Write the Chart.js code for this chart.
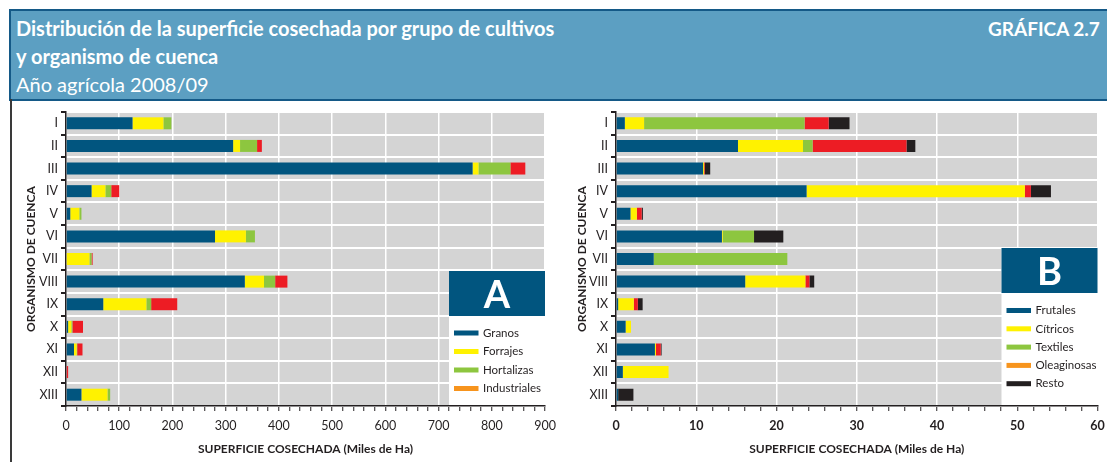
<!DOCTYPE html>
<html>
<head>
<meta charset="utf-8">
<script src="https://cdn.jsdelivr.net/npm/chart.js@4.4.1/dist/chart.umd.min.js"></script>
<style>
  html, body { margin: 0; padding: 0; background: #fff; }
  body { width: 1107px; height: 462px; position: relative; overflow: hidden; font-family: Lato, "Noto Sans", sans-serif; }
  #header {
    position: absolute; left: 9px; top: 9px; width: 1110px; height: 88px;
    background: #5c9fc2; border: 2px solid #145987; border-right: none;
    color: #fff;
  }
  #header .l { position: absolute; left: 5px; font-size: 20px; white-space: nowrap; }
  #header .b { font-weight: 700; }
  #gnum { position: absolute; left: 977px; top: 6px; font-size: 19px; font-weight: 700; white-space: nowrap; }
  #leftline { position: absolute; left: 10px; top: 99px; width: 2px; height: 363px; background: #3a3a3a; }
  canvas { position: absolute; top: 100px; }
  #cA { left: 0; }
  #cB { left: 556px; }
</style>
</head>
<body>
<div id="header">
  <div class="l b" style="top:5px">Distribución de la superficie cosechada por grupo de cultivos</div>
  <div class="l b" style="top:33px">y organismo de cuenca</div>
  <div class="l" style="top:61px">Año agrícola 2008/09</div>
  <div id="gnum">GRÁFICA 2.7</div>
</div>
<div id="leftline"></div>
<canvas id="cA" width="556" height="362"></canvas>
<canvas id="cB" width="551" height="362"></canvas>
<script>
// organismos de cuenca
const cuencas = ['I', 'II', 'III', 'IV', 'V', 'VI', 'VII', 'VIII', 'IX', 'X', 'XI', 'XII', 'XIII'];

// Grafica A (miles de ha)
const granos       = [125, 314, 764, 48, 8, 280, 0, 336, 70, 4, 15, 0, 29];
const forrajes     = [58, 13, 11, 26, 17, 58, 44, 36, 81, 6, 5, 0, 49];
const hortalizas   = [15, 32, 60, 11, 4, 17, 4, 21, 9, 2, 1, 0, 5];
const industriales = [0, 9, 28, 15, 0, 0, 2, 23, 49, 20, 10, 4, 0];

// Grafica B (miles de ha)
const frutales    = [1.1, 15.2, 10.85, 23.75, 1.8, 13.2, 4.7, 16.1, 0.27, 1.2, 4.85, 0.85, 0.27];
const citricos    = [2.4, 8.1, 0.13, 27.2, 0.8, 0.1, 0, 7.5, 1.95, 0.67, 0.13, 5.7, 0];
const textiles    = [20.0, 1.2, 0, 0, 0, 3.9, 16.65, 0, 0, 0, 0, 0, 0];
const oleaginosas = [3.0, 11.7, 0.1, 0.75, 0.6, 0, 0, 0.5, 0.5, 0, 0.6, 0, 0];
const resto       = [2.6, 1.1, 0.66, 2.5, 0.15, 3.65, 0, 0.6, 0.6, 0, 0.1, 0, 1.9];

const ticksA = { max: 900, step: 20, major: 100 };
const ticksB = { max: 60, step: 2, major: 10 };

const AZUL = '#01557f', AMARILLO = '#fff200', VERDE = '#8dc63f', ROJO = '#ed1c24', NARANJA = '#f7941d', NEGRO = '#231f20';
const TXT = '#231f20';

function ds(label, data, color, legendColor) {
    return { label, data, backgroundColor: color, legendColor: legendColor || color, borderWidth: 0 };
}

// recuadro con la letra y la leyenda, dentro del area de trazado
const boxLegend = {
    id: 'boxLegend',
    afterDatasetsDraw(chart, args, opts) {
        const { ctx, chartArea } = chart;
        const w = 96, h = opts.height, head = 45;
        const x = chartArea.right - w, y = chartArea.bottom - h;
        ctx.save();
        ctx.fillStyle = '#fff';
        ctx.fillRect(x, y, w, h - 1);
        ctx.fillStyle = AZUL;
        ctx.fillRect(x, y, w, head);
        ctx.fillStyle = '#fff';
        ctx.font = 'bold 38px Lato, "Noto Sans", sans-serif';
        ctx.textAlign = 'center';
        ctx.textBaseline = 'middle';
        ctx.fillText(opts.letter, x + w / 2, y + head / 2 + 2);
        ctx.font = '11.5px Lato, "Noto Sans", sans-serif';
        ctx.textAlign = 'left';
        chart.data.datasets.forEach((d, i) => {
            const cy = y + head + opts.first + i * opts.gap;
            ctx.fillStyle = d.legendColor;
            ctx.fillRect(x + 5, cy - 2.5, 24.5, 5);
            ctx.fillStyle = TXT;
            ctx.fillText(d.label, x + 34, cy);
        });
        ctx.restore();
    }
};

function makeChart(id, datasets, tk, cfg) {
    return new Chart(document.getElementById(id), {
        type: 'bar',
        data: { labels: cuencas, datasets },
        options: {
            indexAxis: 'y',
            responsive: false,
            animation: false,
            layout: { padding: cfg.padding },
            datasets: { bar: { barPercentage: 0.53, categoryPercentage: 1 } },
            plugins: {
                legend: { display: false },
                tooltip: { enabled: false },
                boxLegend: cfg.legend
            },
            scales: {
                x: {
                    stacked: true,
                    min: 0,
                    max: tk.max,
                    afterFit: s => { s.height = 56; s.paddingLeft = 0; s.paddingRight = 0; },
                    ticks: {
                        stepSize: tk.step,
                        autoSkip: false,
                        maxRotation: 0,
                        padding: 7,
                        color: TXT,
                        font: { family: 'Lato', size: 12.5, weight: cfg.tickWeight },
                        callback: v => (v % tk.major === 0 ? v : '')
                    },
                    grid: {
                        color: c => (c.tick && c.tick.value % tk.major === 0 ? '#ffffff' : 'rgba(0,0,0,0)'),
                        lineWidth: 1.5,
                        tickColor: TXT,
                        tickLength: 5,
                        tickWidth: 1
                    },
                    border: { color: TXT, width: 1.5 },
                    title: {
                        display: true,
                        text: 'SUPERFICIE COSECHADA (Miles de Ha)',
                        color: TXT,
                        font: { family: 'Lato', size: 12, weight: 'bold' },
                        padding: { top: 4, bottom: 6 }
                    }
                },
                y: {
                    stacked: true,
                    afterFit: s => { s.width = cfg.yWidth; },
                    ticks: {
                        color: TXT,
                        padding: 3,
                        font: { family: 'Lato', size: 12.5 }
                    },
                    grid: {
                        offset: true,
                        color: '#ffffff',
                        lineWidth: 2,
                        tickColor: TXT,
                        tickLength: 5
                    },
                    border: { color: TXT, width: 1.5 },
                    title: {
                        display: true,
                        text: 'ORGANISMO DE CUENCA',
                        color: TXT,
                        font: { family: 'Lato', size: 12, weight: 'bold' },
                        padding: { top: 3, bottom: 4 }
                    }
                }
            }
        },
        plugins: [{
            id: 'plotBg',
            beforeDraw(chart) {
                const { ctx, chartArea: a } = chart;
                ctx.save();
                ctx.fillStyle = '#d4d4d4';
                ctx.fillRect(a.left, a.top, a.right - a.left, a.bottom - a.top);
                ctx.restore();
            }
        }, boxLegend]
    });
}

makeChart('cA', [
    ds('Granos', granos, AZUL),
    ds('Forrajes', forrajes, AMARILLO),
    ds('Hortalizas', hortalizas, VERDE),
    ds('Industriales', industriales, ROJO, NARANJA)
], ticksA, {
    padding: { left: 21, right: 11, top: 12, bottom: 0 },
    yWidth: 45,
    tickWeight: 'normal',
    legend: { letter: 'A', height: 135, first: 17, gap: 18.5 }
});

makeChart('cB', [
    ds('Frutales', frutales, AZUL),
    ds('Cítricos', citricos, AMARILLO),
    ds('Textiles', textiles, VERDE),
    ds('Oleaginosas', oleaginosas, ROJO, NARANJA),
    ds('Resto', resto, NEGRO)
], ticksB, {
    padding: { left: 16, right: 9.5, top: 12, bottom: 0 },
    yWidth: 44,
    tickWeight: 'bold',
    legend: { letter: 'B', height: 158, first: 17.5, gap: 18.3 }
});
</script>
</body>
</html>
